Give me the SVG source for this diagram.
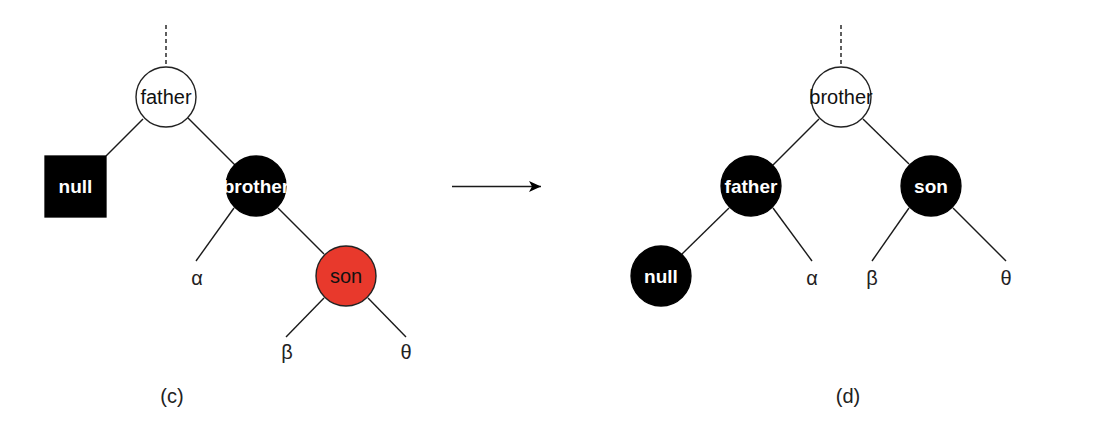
<svg xmlns="http://www.w3.org/2000/svg" width="1099" height="433" viewBox="0 0 1099 433">
<defs>
<style>
.edge{stroke:#1a1a1a;stroke-width:1.4;fill:none}
.dash{stroke:#1a1a1a;stroke-width:1.4;stroke-dasharray:4 3;fill:none}
.white{fill:#fff;stroke:#222;stroke-width:1.4}
.black{fill:#000;stroke:#000;stroke-width:1.3}
.red{fill:#E8392C;stroke:#222;stroke-width:1.4}
.tb{font-family:"Liberation Sans",Arial,sans-serif;font-size:20px;fill:#111;text-anchor:middle}
.tw{font-family:"Liberation Sans",Arial,sans-serif;font-size:19px;font-weight:bold;fill:#fff;text-anchor:middle}
.lbl{font-family:"Liberation Sans",Arial,sans-serif;font-size:20px;fill:#222;text-anchor:middle}
</style>
<marker id="arr" markerWidth="14" markerHeight="12" refX="12" refY="6" orient="auto" markerUnits="userSpaceOnUse">
<path d="M0,0.5 L12,6 L0,11.5 L3,6 Z" fill="#000"/>
</marker>
</defs>
<rect width="1099" height="433" fill="#fff"/>
<g id="connectors">
<line class="dash" x1="166" y1="25" x2="166" y2="67"/>
<line class="edge" x1="143" y1="119" x2="106" y2="156"/>
<line class="edge" x1="188" y1="118" x2="235" y2="165"/>
<line class="edge" x1="234" y1="208" x2="196" y2="261"/>
<line class="edge" x1="278" y1="208" x2="324" y2="254"/>
<line class="edge" x1="324" y1="298" x2="286" y2="337"/>
<line class="edge" x1="368" y1="298" x2="406" y2="337"/>
<line class="edge" x1="452" y1="186.5" x2="541" y2="186.5" stroke="#000" stroke-width="1.5" marker-end="url(#arr)"/>
<line class="dash" x1="841" y1="25" x2="841" y2="67"/>
<line class="edge" x1="819" y1="119" x2="773" y2="165"/>
<line class="edge" x1="863" y1="119" x2="909" y2="164"/>
<line class="edge" x1="729" y1="208" x2="682" y2="254"/>
<line class="edge" x1="773" y1="208" x2="812" y2="261"/>
<line class="edge" x1="909" y1="208" x2="872" y2="261"/>
<line class="edge" x1="953" y1="208" x2="1006" y2="261"/>
</g>
<g id="c-father"><circle class="white" cx="166" cy="97" r="30"/><text class="tb" x="166" y="104">father</text></g>
<g id="c-null"><rect class="black" x="45" y="156" width="61" height="61"/><text class="tw" x="75.5" y="193">null</text></g>
<g id="c-brother"><circle class="black" cx="256" cy="186" r="30"/><text class="tw" x="256" y="193">brother</text></g>
<g id="c-son"><circle class="red" cx="346" cy="276" r="30"/><text class="tb" x="346" y="283">son</text></g>
<g id="c-alpha"><text class="lbl" x="197" y="285">α</text></g>
<g id="c-beta"><text class="lbl" x="287" y="359">β</text></g>
<g id="c-theta"><text class="lbl" x="406" y="359">θ</text></g>
<g id="c-label"><text class="lbl" x="172" y="403">(c)</text></g>
<g id="d-brother"><circle class="white" cx="841" cy="97" r="30"/><text class="tb" x="841" y="104">brother</text></g>
<g id="d-father"><circle class="black" cx="751" cy="186" r="30"/><text class="tw" x="751" y="193">father</text></g>
<g id="d-son"><circle class="black" cx="931" cy="186" r="30"/><text class="tw" x="931" y="193">son</text></g>
<g id="d-null"><circle class="black" cx="661" cy="276" r="30"/><text class="tw" x="661" y="283">null</text></g>
<g id="d-alpha"><text class="lbl" x="812" y="285">α</text></g>
<g id="d-beta"><text class="lbl" x="872" y="285">β</text></g>
<g id="d-theta"><text class="lbl" x="1006" y="285">θ</text></g>
<g id="d-label"><text class="lbl" x="848" y="403">(d)</text></g>
</svg>
